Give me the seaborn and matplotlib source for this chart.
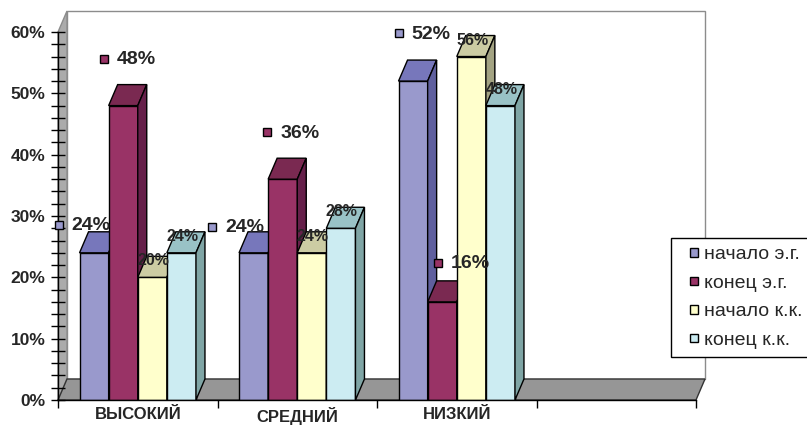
import matplotlib
matplotlib.use("Agg")
import numpy as np
import pandas as pd
import seaborn as sns
import matplotlib.pyplot as plt
import matplotlib.transforms as mtransforms
from matplotlib.patches import Polygon, Patch, Rectangle
from matplotlib.legend_handler import HandlerPatch
from matplotlib.ticker import FixedLocator, MultipleLocator, FuncFormatter, NullFormatter

# ---- data -------------------------------------------------------------
levels = ["ВЫСОКИЙ", "СРЕДНИЙ", "НИЗКИЙ"]
series_names = ["начало э.г.", "конец э.г.", "начало к.к.", "конец к.к."]
start_eg = [24, 24, 52]
end_eg = [48, 36, 16]
start_kk = [20, 24, 56]
end_kk = [24, 28, 48]
y_ticks = [0, 10, 20, 30, 40, 50, 60]

# ---- style ------------------------------------------------------------
front_colors = ["#9999CC", "#993366", "#FFFFCC", "#CCECF2"]
top_colors = ["#7777BB", "#7A2951", "#CCCCA3", "#99C2C6"]
side_colors = ["#5F5F9E", "#66204A", "#A3A382", "#7FA5A5"]
DEPTH_PX = (9, 21)          # oblique depth of the 3-D box, in pixels

# offsets (pixels) of the keyed labels for the first two series
keyed_label_offsets = {
    (0, 0): (-35.5, 28), (0, 1): (-41.5, 26), (0, 2): (-14.5, 48),
    (1, 0): (-19.5, 47), (1, 1): (-15.5, 47), (1, 2): (-4.5, 39),
}

df = pd.DataFrame({
    "level": levels * 4,
    "series": np.repeat(series_names, len(levels)),
    "value": start_eg + end_eg + start_kk + end_kk,
})

sns.set_theme(style="white")
plt.rcParams["font.family"] = ["Liberation Sans", "DejaVu Sans"]

W, H = 807, 428
fig = plt.figure(figsize=(W / 100, H / 100), dpi=100)
fig.patch.set_facecolor("white")
ax = fig.add_axes([58 / W, 28 / H, 638 / W, 368 / H])
ax.patch.set_alpha(0)

sns.barplot(data=df, x="level", y="value", hue="series", order=levels,
            hue_order=series_names, palette=front_colors, width=0.73,
            saturation=1, edgecolor="black", linewidth=1, legend=False, ax=ax)

ax.set_xlim(-0.5, 3.5)
ax.set_ylim(y_ticks[0], y_ticks[-1])
x0, x1 = ax.get_xlim()
y0, y1 = ax.get_ylim()

# depth expressed in data units
ddx = DEPTH_PX[0] * (x1 - x0) / ax.bbox.width
ddy = DEPTH_PX[1] * (y1 - y0) / ax.bbox.height

# walls and floor of the 3-D box
ax.add_patch(Polygon([(x0 + ddx, y0 + ddy), (x1 + ddx, y0 + ddy),
                      (x1 + ddx, y1 + ddy), (x0 + ddx, y1 + ddy)],
                     closed=True, facecolor="white", edgecolor="#8C8C8C",
                     linewidth=1, zorder=0.1, clip_on=False))
ax.add_patch(Polygon([(x0, y0), (x0 + ddx, y0 + ddy),
                      (x0 + ddx, y1 + ddy), (x0, y1)],
                     closed=True, facecolor="#ABABAB", edgecolor="#8C8C8C",
                     linewidth=1, zorder=0.2, clip_on=False))
ax.add_patch(Polygon([(x0, y0), (x1, y0), (x1 + ddx, y0 + ddy), (x0 + ddx, y0 + ddy)],
                     closed=True, facecolor="#969696", edgecolor="#333333",
                     linewidth=1, zorder=0.3, clip_on=False))

# 3-D faces for every bar, drawn left to right so neighbours overlap correctly
bars = []
for si, cont in enumerate(ax.containers):
    for ci, rect in enumerate(cont):
        bars.append((rect.get_x(), si, ci, rect))
bars.sort(key=lambda b: b[0])

for k, (bx, si, ci, rect) in enumerate(bars):
    z = 2 + 0.01 * k
    w, h = rect.get_width(), rect.get_height()
    rect.set_zorder(z)
    ax.add_patch(Polygon([(bx, h), (bx + w, h), (bx + w + ddx, h + ddy), (bx + ddx, h + ddy)],
                         closed=True, facecolor=top_colors[si], edgecolor="black",
                         linewidth=1, zorder=z, clip_on=False))
    ax.add_patch(Polygon([(bx + w, 0), (bx + w + ddx, ddy), (bx + w + ddx, h + ddy), (bx + w, h)],
                         closed=True, facecolor=side_colors[si], edgecolor="black",
                         linewidth=1, zorder=z, clip_on=False))

# value labels
for bx, si, ci, rect in bars:
    w, h = rect.get_width(), rect.get_height()
    cx = bx + w / 2
    if (si, ci) in keyed_label_offsets:
        dx, dy = keyed_label_offsets[(si, ci)]
        key_tr = mtransforms.offset_copy(ax.transData, fig=fig, x=dx, y=dy, units="dots")
        ax.plot([cx], [h], marker="s", ms=6, mfc=front_colors[si], mec="black",
                mew=1, transform=key_tr, clip_on=False, zorder=10)
        ax.annotate(f"{h:.0f}%", xy=(cx, h), xytext=(dx + 13, dy - 1),
                    textcoords="offset pixels", ha="left", va="center",
                    fontsize=14, fontweight="bold", zorder=10, annotation_clip=False)
    else:
        ax.annotate(f"{h:.0f}%", xy=(cx, h), xytext=(1, 16.5),
                    textcoords="offset pixels", ha="center", va="center",
                    fontsize=11.5, fontweight="bold", zorder=10, annotation_clip=False)

# axes and ticks
for s in ("top", "right"):
    ax.spines[s].set_visible(False)
for s in ("left", "bottom"):
    ax.spines[s].set_color("black")
    ax.spines[s].set_linewidth(1)

ax.yaxis.set_major_locator(FixedLocator(y_ticks))
ax.yaxis.set_minor_locator(MultipleLocator(2))
ax.yaxis.set_major_formatter(FuncFormatter(lambda v, _: f"{v:.0f}%"))
ax.tick_params(axis="y", which="both", direction="inout", length=10, width=1,
               color="black", labelsize=12.5, pad=4, left=True)
for lab in ax.get_yticklabels():
    lab.set_fontweight("bold")

ax.xaxis.set_major_locator(FixedLocator(range(len(levels))))
ax.set_xticklabels(levels)
ax.xaxis.set_minor_locator(FixedLocator(np.arange(x0, x1 + 0.01, 1.0)))
ax.xaxis.set_minor_formatter(NullFormatter())
ax.tick_params(axis="x", which="major", length=0, labelsize=12, pad=5)
ax.tick_params(axis="x", which="minor", direction="out", length=6, width=1,
               color="black", bottom=True)
for lab in ax.get_xticklabels():
    lab.set_fontweight("bold")
ax.set_xlabel("")
ax.set_ylabel("")


# legend: small square keys sitting at the right end of a wider key box
def square_key(legend, orig_handle, xdescent, ydescent, width, height, fontsize):
    s = 6.0
    return Rectangle((-xdescent + width - s, -ydescent + (height - s) / 2), s, s)


handles = [Patch(facecolor=c, edgecolor="black", linewidth=1) for c in front_colors]
leg = fig.legend(handles, series_names, loc="upper left",
                 bbox_to_anchor=(671 / W, 1 - 238 / H), frameon=True,
                 fancybox=False, edgecolor="black", framealpha=1, fontsize=14,
                 handlelength=1.0, handleheight=0.7, handletextpad=0.3,
                 labelspacing=0.56, borderpad=0.4, borderaxespad=0,
                 handler_map={Patch: HandlerPatch(patch_func=square_key)})
leg.get_frame().set_linewidth(1)

fig.savefig("out.png", dpi=100, facecolor="white")
